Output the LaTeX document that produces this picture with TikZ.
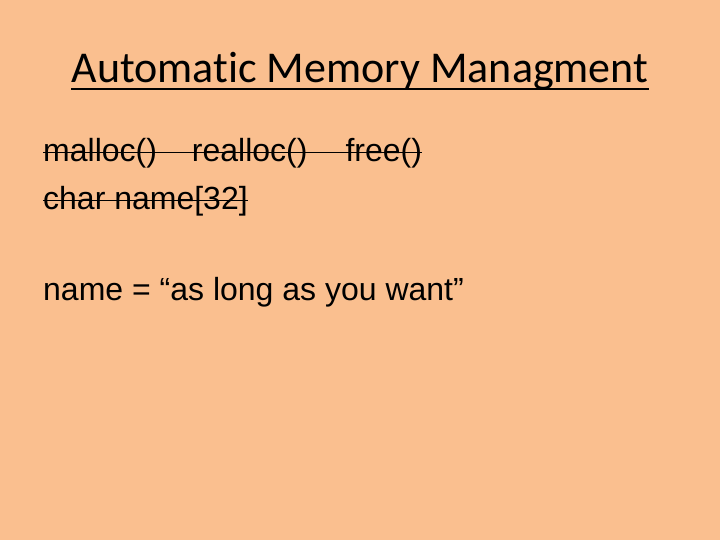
\documentclass[tikz,border=0pt]{standalone}
\usepackage{fontspec}
\setmainfont{Liberation Sans}
\newfontfamily\titlefont[Ligatures=NoCommon]{Carlito}
\usepackage{tikz}
\usetikzlibrary{calc}
\definecolor{slidebg}{RGB}{250,191,143}

\begin{document}
\begin{tikzpicture}[x=1pt,y=1pt]
\fill[slidebg] (0,0) rectangle (720,540);
\useasboundingbox (0,0) rectangle (720,540);
\tikzset{body/.style={anchor=base west, inner sep=0pt, font=\fontsize{32}{38}\selectfont}}
\path
(360,457) node[anchor=base, inner sep=0pt, font=\titlefont\fontsize{44}{52}\selectfont] (title) {Automatic Memory Managment};
\draw[line width=2.2] ($(title.base west)+(0,-6)$)--($(title.base east)+(0,-6)$);
\path
(43,378) node[body] (allocs) {malloc()\hspace{35pt}realloc()\hspace{38pt}free()};
\path
(43,330) node[body] (array) {char name[32]};
\path
(43,239) node[body] (assign) {name = “as long as you want”};
\draw[line width=1.8] ($(allocs.base west)+(0,9.5)$)--($(allocs.base east)+(0,9.5)$);
\draw[line width=1.8] ($(array.base west)+(0,9.5)$)--($(array.base east)+(0,9.5)$);
\end{tikzpicture}
\end{document}
